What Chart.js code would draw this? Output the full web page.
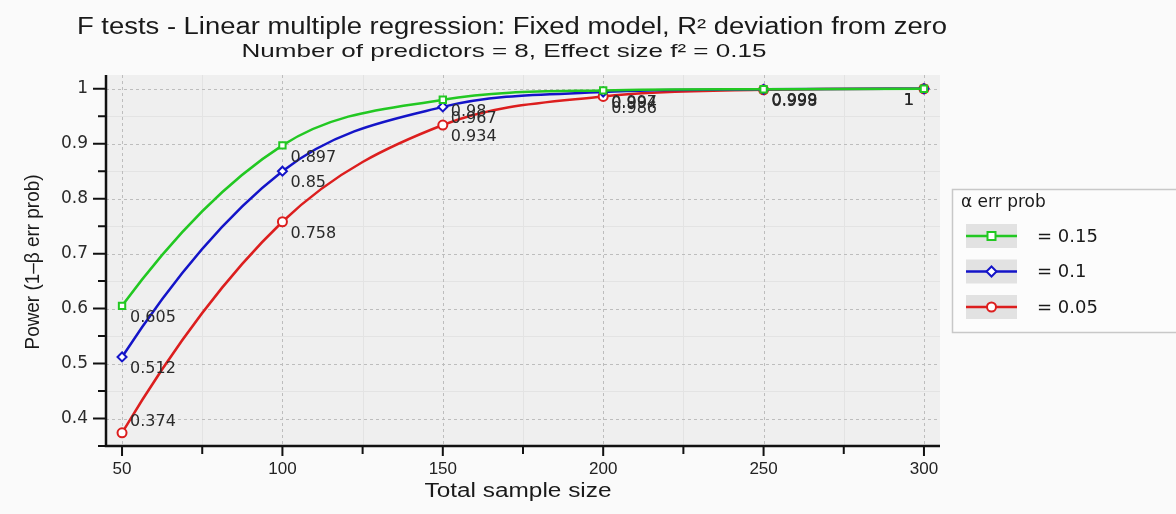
<!DOCTYPE html>
<html lang="en">
<head>
<meta charset="UTF-8">
<title>F tests - power plot</title>
<script src="https://cdn.jsdelivr.net/npm/chart.js"></script>
<style>
  html, body { margin: 0; padding: 0; background: #fafafa; }
  #wrap { width: 1176px; height: 514px; }
</style>
</head>
<body>
<div id="wrap"><canvas id="chart" width="1176" height="514"></canvas></div>
<script>
// values
const sampleSizes = [50, 100, 150, 200, 250, 300];
const power015 = [0.605, 0.897, 0.98, 0.997, 0.999, 1];
const power010 = [0.512, 0.85, 0.967, 0.994, 0.999, 1];
const power005 = [0.374, 0.758, 0.934, 0.986, 0.998, 1];
const alphaLabels = ['= 0.15', '= 0.1', '= 0.05'];
const xTicks = [50, 100, 150, 200, 250, 300];
const xMinor = [75, 125, 175, 225, 275];
const yTicks = [0.4, 0.5, 0.6, 0.7, 0.8, 0.9, 1];
const yMinor = [0.35, 0.45, 0.55, 0.65, 0.75, 0.85, 0.95];

const titleText = 'F tests - Linear multiple regression: Fixed model, R\u00b2 deviation from zero';
const subtitleText = 'Number of predictors = 8, Effect size f\u00b2 = 0.15';

const narrow = "'Liberation Sans', Arial, sans-serif";
const wide = "'DejaVu Sans', Verdana, sans-serif";

const colors = ['#22c822', '#1414c8', '#dc1e1e'];
const styles = ['rect', 'rectRot', 'circle'];

// text squeezed to a given width
function fitText(ctx, text, cx, cy, font, width, rotate) {
  ctx.save();
  ctx.font = font;
  const w = ctx.measureText(text).width;
  ctx.translate(cx, cy);
  if (rotate) ctx.rotate(-Math.PI / 2);
  ctx.scale(width / w, 1);
  ctx.textAlign = 'center';
  ctx.textBaseline = 'middle';
  ctx.fillText(text, 0, 0);
  ctx.restore();
}

function marker(ctx, style, x, y, color) {
  ctx.save();
  ctx.strokeStyle = color;
  ctx.fillStyle = '#ffffff';
  ctx.lineWidth = 2;
  ctx.beginPath();
  if (style === 'rect') ctx.rect(x - 4, y - 4, 8, 8);
  else if (style === 'rectRot') { ctx.moveTo(x, y - 5); ctx.lineTo(x + 5, y); ctx.lineTo(x, y + 5); ctx.lineTo(x - 5, y); ctx.closePath(); }
  else ctx.arc(x, y, 4.5, 0, Math.PI * 2);
  ctx.fill();
  ctx.stroke();
  ctx.restore();
}

const plotDecor = {
  id: 'plotDecor',
  beforeDraw(chart) {
    const { ctx, chartArea: a, scales: { x, y } } = chart;
    ctx.save();
    ctx.fillStyle = '#fafafa';
    ctx.fillRect(0, 0, chart.width, chart.height);
    ctx.fillStyle = '#efefef';
    ctx.fillRect(a.left, a.top, a.right - a.left, a.bottom - a.top);

    // faint minor grid
    ctx.strokeStyle = '#e3e3e3';
    ctx.lineWidth = 1;
    ctx.beginPath();
    xMinor.forEach(v => { const p = Math.round(x.getPixelForValue(v)) + 0.5; ctx.moveTo(p, a.top); ctx.lineTo(p, a.bottom); });
    yMinor.forEach(v => { const p = Math.round(y.getPixelForValue(v)) + 0.5; ctx.moveTo(a.left, p); ctx.lineTo(a.right, p); });
    ctx.stroke();

    // dashed major grid
    ctx.strokeStyle = '#bdbdbd';
    ctx.setLineDash([3, 3]);
    ctx.beginPath();
    xTicks.forEach(v => { const p = Math.round(x.getPixelForValue(v)) + 0.5; ctx.moveTo(p, a.top); ctx.lineTo(p, a.bottom); });
    yTicks.forEach(v => { const p = Math.round(y.getPixelForValue(v)) + 0.5; ctx.moveTo(a.left, p); ctx.lineTo(a.right, p); });
    ctx.stroke();
    ctx.restore();
  },
  beforeDatasetsDraw(chart) {
    // monotone curves, but with parabolic end slopes so the first leg bends like the original
    chart.data.datasets.forEach((ds, i) => {
      const meta = chart.getDatasetMeta(i);
      const line = meta.dataset;
      line.updateControlPoints(chart.chartArea, meta.iScale.axis);
      const pts = meta.data;
      const n = pts.length;
      if (n < 3) return;
      const p0 = pts[0], p1 = pts[1];
      const d0 = (p1.y - p0.y) / (p1.x - p0.x);
      const m1 = (p1.y - p1.cp1y) / (p1.x - p1.cp1x);
      p0.cp2y = p0.y + (2 * d0 - m1) * (p0.cp2x - p0.x);
      const q0 = pts[n - 1], q1 = pts[n - 2];
      const dn = (q0.y - q1.y) / (q0.x - q1.x);
      const mn = (q1.cp2y - q1.y) / (q1.cp2x - q1.x);
      q0.cp1y = q0.y - (2 * dn - mn) * (q0.x - q0.cp1x);
      line._path = undefined;
    });
  },
  afterDatasetsDraw(chart) {
    const { ctx, chartArea: a, scales: { x, y } } = chart;
    ctx.save();

    // value labels next to each point
    ctx.font = '16px ' + wide;
    ctx.fillStyle = '#2a2a2a';
    ctx.textBaseline = 'middle';
    for (let i = chart.data.datasets.length - 1; i >= 0; i--) {
      const ds = chart.data.datasets[i];
      chart.getDatasetMeta(i).data.forEach((pt, j) => {
        const txt = String(ds.data[j].y);
        const w = ctx.measureText(txt).width;
        let ty = pt.y + 12;
        if (ty + 8 > a.bottom) ty = pt.y - 11;
        if (pt.x + 8 + w > a.right) {
          ctx.textAlign = 'right';
          ctx.fillText(txt, pt.x - 10, ty);
        } else {
          ctx.textAlign = 'left';
          ctx.fillText(txt, pt.x + 8, ty);
        }
      });
    }

    // axes and tick marks
    ctx.strokeStyle = '#111';
    ctx.lineWidth = 2.5;
    ctx.beginPath();
    ctx.moveTo(a.left, a.top);
    ctx.lineTo(a.left, a.bottom);
    ctx.lineTo(a.right, a.bottom);
    ctx.stroke();
    ctx.lineWidth = 2;
    ctx.beginPath();
    yTicks.forEach(v => { const p = y.getPixelForValue(v); ctx.moveTo(a.left, p); ctx.lineTo(a.left - 13, p); });
    yMinor.forEach(v => { const p = y.getPixelForValue(v); ctx.moveTo(a.left, p); ctx.lineTo(a.left - 8, p); });
    xTicks.forEach(v => { const p = x.getPixelForValue(v); ctx.moveTo(p, a.bottom); ctx.lineTo(p, a.bottom + 10); });
    xMinor.forEach(v => { const p = x.getPixelForValue(v); ctx.moveTo(p, a.bottom); ctx.lineTo(p, a.bottom + 8); });
    ctx.stroke();
    ctx.restore();
  },
  afterDraw(chart) {
    const { ctx } = chart;
    ctx.save();
    ctx.fillStyle = '#1a1a1a';
    fitText(ctx, titleText, 512, 28, '23px ' + narrow, 870);
    fitText(ctx, subtitleText, 504, 52, '19px ' + narrow, 525);
    fitText(ctx, 'Total sample size', 518, 491, '20px ' + narrow, 187);
    fitText(ctx, 'Power (1\u2013\u03b2 err prob)', 33, 262, '20px ' + narrow, 175, true);

    // legend box
    ctx.fillStyle = '#fcfcfc';
    ctx.fillRect(952, 189, 230, 143);
    ctx.strokeStyle = '#c8c8c8';
    ctx.lineWidth = 1.5;
    ctx.strokeRect(952.5, 189.5, 240, 143);
    ctx.fillStyle = '#1a1a1a';
    ctx.font = '17px ' + wide;
    ctx.textAlign = 'left';
    ctx.textBaseline = 'middle';
    ctx.fillText('\u03b1 err prob', 961, 203);
    alphaLabels.forEach((lab, i) => {
      const cy = 236 + i * 35.5;
      ctx.fillStyle = '#e2e2e2';
      ctx.fillRect(966, cy - 12, 51, 24);
      ctx.strokeStyle = colors[i];
      ctx.lineWidth = 2.5;
      ctx.beginPath();
      ctx.moveTo(966, cy);
      ctx.lineTo(1017, cy);
      ctx.stroke();
      marker(ctx, styles[i], 991.5, cy, colors[i]);
      ctx.fillStyle = '#1a1a1a';
      ctx.font = '18px ' + wide;
      ctx.fillText(lab, 1037, cy + 1);
    });
    ctx.restore();
  }
};

function series(label, values, i) {
  return {
    label,
    data: values.map((v, k) => ({ x: sampleSizes[k], y: v })),
    borderColor: colors[i],
    borderWidth: 2.5,
    pointStyle: styles[i],
    pointRadius: 4.5,
    pointBorderWidth: 2,
    pointBackgroundColor: '#ffffff',
    pointBorderColor: colors[i],
    cubicInterpolationMode: 'monotone',
    fill: false
  };
}

new Chart(document.getElementById('chart'), {
  type: 'line',
  data: {
    datasets: [
      series(alphaLabels[0], power015, 0),
      series(alphaLabels[1], power010, 1),
      series(alphaLabels[2], power005, 2)
    ]
  },
  options: {
    responsive: false,
    animation: false,
    devicePixelRatio: 1,
    layout: { padding: { top: 75, right: 236, left: 0, bottom: 0 } },
    plugins: { legend: { display: false }, tooltip: { enabled: false }, title: { display: false } },
    scales: {
      x: {
        type: 'linear',
        min: 45,
        max: 305,
        afterBuildTicks: s => { s.ticks = xTicks.map(v => ({ value: v })); },
        afterFit: s => { s.height = 68; },
        grid: { display: false, drawTicks: false },
        border: { display: false },
        ticks: { padding: 13, color: '#222', autoSkip: false, maxRotation: 0, font: { family: narrow, size: 17 } }
      },
      y: {
        min: 0.35,
        max: 1.025,
        afterBuildTicks: s => { s.ticks = yTicks.map(v => ({ value: v })); },
        afterFit: s => { s.width = 106; },
        grid: { display: false, drawTicks: false },
        border: { display: false },
        ticks: {
          padding: 18,
          color: '#2a2a2a',
          font: { family: wide, size: 17 },
          callback: v => String(Number(v.toFixed(2)))
        }
      }
    }
  },
  plugins: [plotDecor]
});
</script>
</body>
</html>
